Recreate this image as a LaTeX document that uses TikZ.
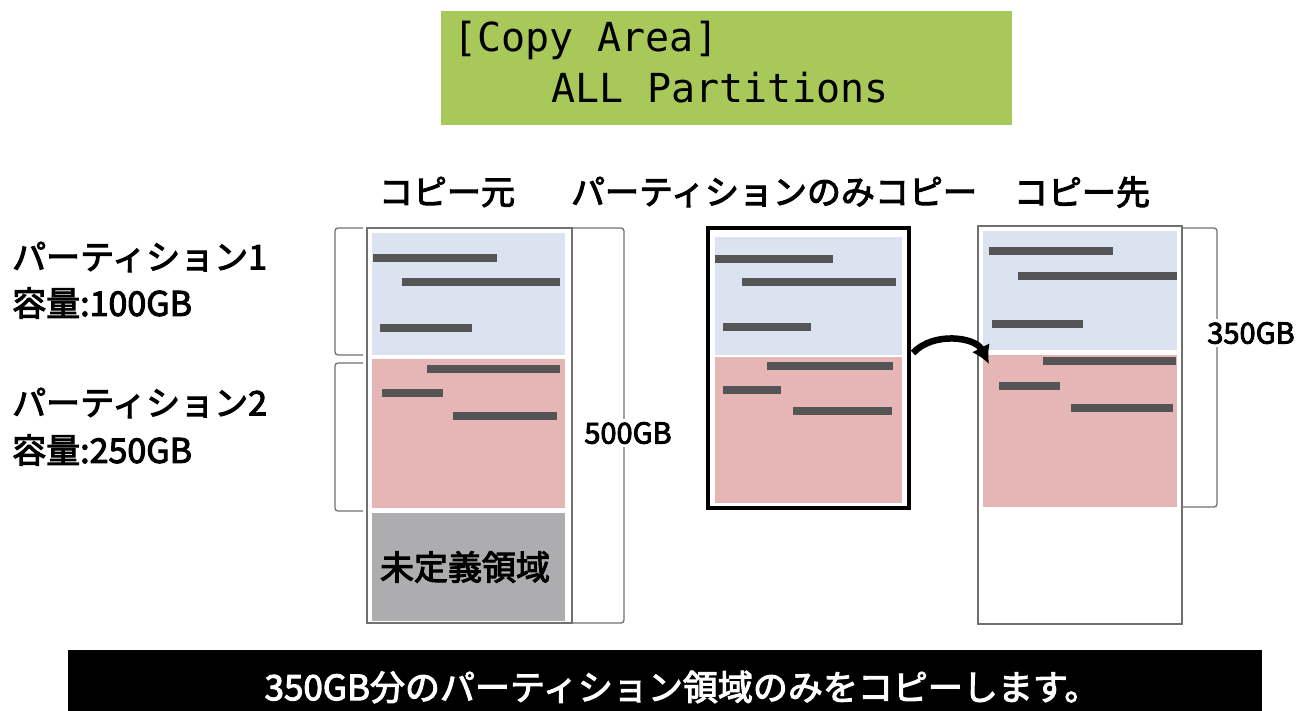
\documentclass[tikz,border=0pt]{standalone}
\usepackage{fontspec}
\newfontfamily\jpfont{Noto Sans CJK JP}
\newfontfamily\jpmid[FakeBold=3]{Noto Sans CJK JP}
\newfontfamily\lcdfont{DejaVu Sans Mono}
\usetikzlibrary{arrows.meta}

\definecolor{lcdgreen}{HTML}{A8C85A}
\definecolor{partblue}{HTML}{DAE3EF}
\definecolor{partpink}{HTML}{E6B6B6}
\definecolor{freegray}{HTML}{ADADB0}
\definecolor{barc}{HTML}{555555}
\definecolor{framec}{HTML}{707070}

\begin{document}
\begin{tikzpicture}[x = 1pt, y = -1pt, > = Latex, font = \jpmid\fontsize{34}{38}\selectfont,
	bar/.style = {barc, line width = 8.5pt},
	frame/.style = {draw = framec, line width = 1.5pt},
	brace/.style = {draw = framec, line width = 1.3pt, rounded corners = 3pt},
	label/.style = {anchor = west, inner sep = 0pt},
	size/.style = {fill = white, inner sep = 3pt, font = \jpmid\fontsize{29}{32}\selectfont}]

	\useasboundingbox (0, 0) rectangle (1314, 711);

	% LCD panel
	
	\fill [lcdgreen] (441, 11) rectangle (1012, 125);
	\node (lcda) [label, font = \lcdfont\fontsize{40}{40}\selectfont] at (453, 40) {[Copy Area]};
	\node (lcdb) [label, font = \lcdfont\fontsize{40}{40}\selectfont] at (551, 88) {ALL Partitions};
	
	% Column titles
	
	\node (src) at (447, 192) {コピー元};
	\node (mid) at (774, 192) {パーティションのみコピー};
	\node (dst) at (1082, 192) {コピー先};
	
	% Partition labels
	
	\node (p1) [label] at (12, 257) {パーティション1};
	\node (c1) [label] at (12, 303) {容量:100GB};
	\node (p2) [label] at (12, 403) {パーティション2};
	\node (c2) [label] at (12, 450) {容量:250GB};
	
	% Source disk
	
	\fill [partblue] (372, 233) rectangle (565, 355);
	\fill [partpink] (372, 359) rectangle (565, 508);
	\fill [freegray] (372, 513) rectangle (565, 621);
	\draw [frame] (367, 228) rectangle (572, 623);
	\node (free) at (465, 567) {未定義領域};
	\foreach \xa/\xb/\yy in {373/497/258, 402/560/282, 380/472/328, 427/560/369, 382/443/393, 453/557/416}
		\draw [bar] (\xa, \yy) -- (\xb, \yy);
	
	\draw [brace] (363, 228) -- (335, 228) -- (335, 355) -- (363, 355);
	\draw [brace] (363, 363) -- (335, 363) -- (335, 511) -- (363, 511);
	\draw [brace] (572, 228) -- (624, 228) -- (624, 623) -- (572, 623);
	\node (s500) [size] at (628, 433) {500GB};
	
	% Partitions only
	
	\fill [partblue] (715, 237) rectangle (902, 355);
	\fill [partpink] (715, 357) rectangle (902, 503);
	\draw [line width = 3.5pt] (708, 228) rectangle (909, 508);
	\foreach \xa/\xb/\yy in {715/833/259, 742/896/282, 723/811/327, 767/893/366, 723/781/390, 793/892/411}
		\draw [bar] (\xa, \yy) -- (\xb, \yy);
	
	% Target disk
	
	\fill [partblue] (983, 231) rectangle (1177, 350);
	\fill [partpink] (983, 355) rectangle (1177, 507);
	\draw [frame] (978, 226) rectangle (1182, 624);
	\foreach \xa/\xb/\yy in {989/1113/251, 1018/1177/276, 992/1083/324, 1043/1176/361, 999/1060/386, 1071/1173/408}
		\draw [bar] (\xa, \yy) -- (\xb, \yy);
	
	\draw [brace] (1182, 228) -- (1217, 228) -- (1217, 507) -- (1182, 507);
	\node (s350) [size] at (1251, 333) {350GB};
	
	% Copy arrow
	
	\coordinate (from) at (913, 353);
	\coordinate (to) at (989, 364);
	\draw [->, line width = 6.5pt, >={Latex[length = 18pt, width = 20pt]}] (from) to [bend left = 55] (to);
	
	% Message bar
	
	\fill [black] (68, 650) rectangle (1262, 711);
	\node (msg) [white, font = \jpmid\fontsize{35}{38}\selectfont] at (682, 687) {350GB分のパーティション領域のみをコピーします。};

\end{tikzpicture}
\end{document}
